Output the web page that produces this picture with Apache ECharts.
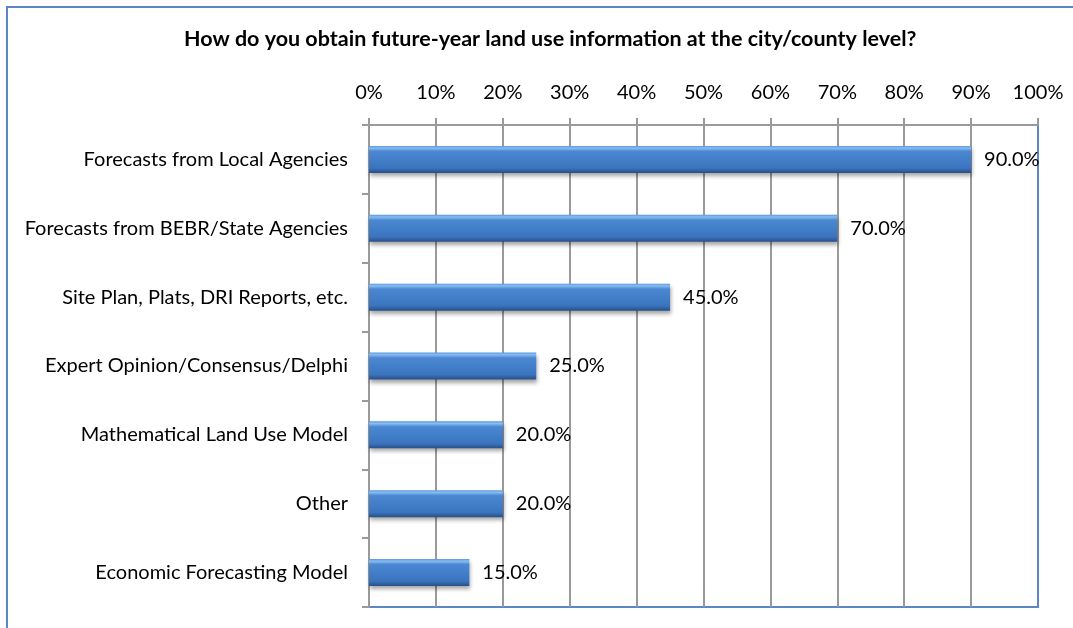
<!DOCTYPE html>
<html>
<head>
<meta charset="utf-8">
<style>
  html, body { margin: 0; padding: 0; background: #ffffff; }
  #chart { width: 1073px; height: 628px; }
</style>
<script src="https://cdn.jsdelivr.net/npm/echarts@6/dist/echarts.min.js"></script>
</head>
<body>
<div id="chart"></div>
<script>
// Survey responses: share of agencies using each source
const categories = [
  'Forecasts from Local Agencies',
  'Forecasts from BEBR/State Agencies',
  'Site Plan, Plats, DRI Reports, etc.',
  'Expert Opinion/Consensus/Delphi',
  'Mathematical Land Use Model',
  'Other',
  'Economic Forecasting Model'
];
const shares = [90, 70, 45, 25, 20, 20, 15];
const titleText = 'How do you obtain future-year land use information at the city/county level?';

const FONT = 'Lato, "Liberation Sans", sans-serif';
const frameBlue = '#5b87c5';
const gridGrey = '#9a9a9a';

// vertical gridlines are grey, except the one closing the plot on the right
const gridLineColors = Array.from({ length: 10 }, () => gridGrey).concat([frameBlue]);

const chart = echarts.init(document.getElementById('chart'), null, { renderer: 'canvas' });

chart.setOption({
  backgroundColor: '#ffffff',
  animation: false,
  title: {
    text: titleText,
    left: 184,
    top: 28,
    padding: 0,
    textStyle: { fontFamily: FONT, fontWeight: 'bold', fontSize: 21.5, color: '#000' }
  },
  graphic: [
    {
      type: 'rect',
      shape: { x: 7, y: 7, width: 1200, height: 800 },
      style: { fill: 'none', stroke: frameBlue, lineWidth: 2 },
      silent: true
    }
  ],
  grid: {
    left: 369, right: 35, top: 125, bottom: 21,
    show: true,
    borderColor: frameBlue,
    borderWidth: 2,
    backgroundColor: 'transparent'
  },
  xAxis: {
    type: 'value',
    position: 'top',
    min: 0, max: 100, interval: 10,
    axisLine: { show: true, lineStyle: { color: gridGrey, width: 2 } },
    axisTick: { show: true, length: 7, lineStyle: { color: gridGrey, width: 2 } },
    splitLine: { show: true, lineStyle: { color: gridLineColors, width: 2 } },
    axisLabel: {
      formatter: '{value}%', margin: 22,
      fontFamily: FONT, fontSize: 20, color: '#000'
    }
  },
  yAxis: {
    type: 'category',
    data: categories,
    inverse: true,
    axisLine: { show: true, lineStyle: { color: gridGrey, width: 2 } },
    axisTick: { show: true, length: 7, lineStyle: { color: gridGrey, width: 2 } },
    splitLine: { show: false },
    axisLabel: { margin: 21, fontFamily: FONT, fontSize: 20, color: '#000' }
  },
  series: [{
    type: 'bar',
    data: shares,
    barWidth: 27,
    itemStyle: {
      color: new echarts.graphic.LinearGradient(0, 0, 0, 1, [
        { offset: 0, color: '#5d98dd' },
        { offset: 0.08, color: '#86bdf2' },
        { offset: 0.2, color: '#4c88d2' },
        { offset: 0.82, color: '#3a74bf' },
        { offset: 1, color: '#284f85' }
      ]),
      shadowColor: 'rgba(0,0,0,0.35)',
      shadowBlur: 4,
      shadowOffsetY: 3,
      shadowOffsetX: 1
    },
    label: {
      show: true,
      position: 'right',
      distance: 13,
      formatter: p => p.value.toFixed(1) + '%',
      fontFamily: FONT, fontSize: 20, color: '#000'
    }
  }]
});
</script>
</body>
</html>
